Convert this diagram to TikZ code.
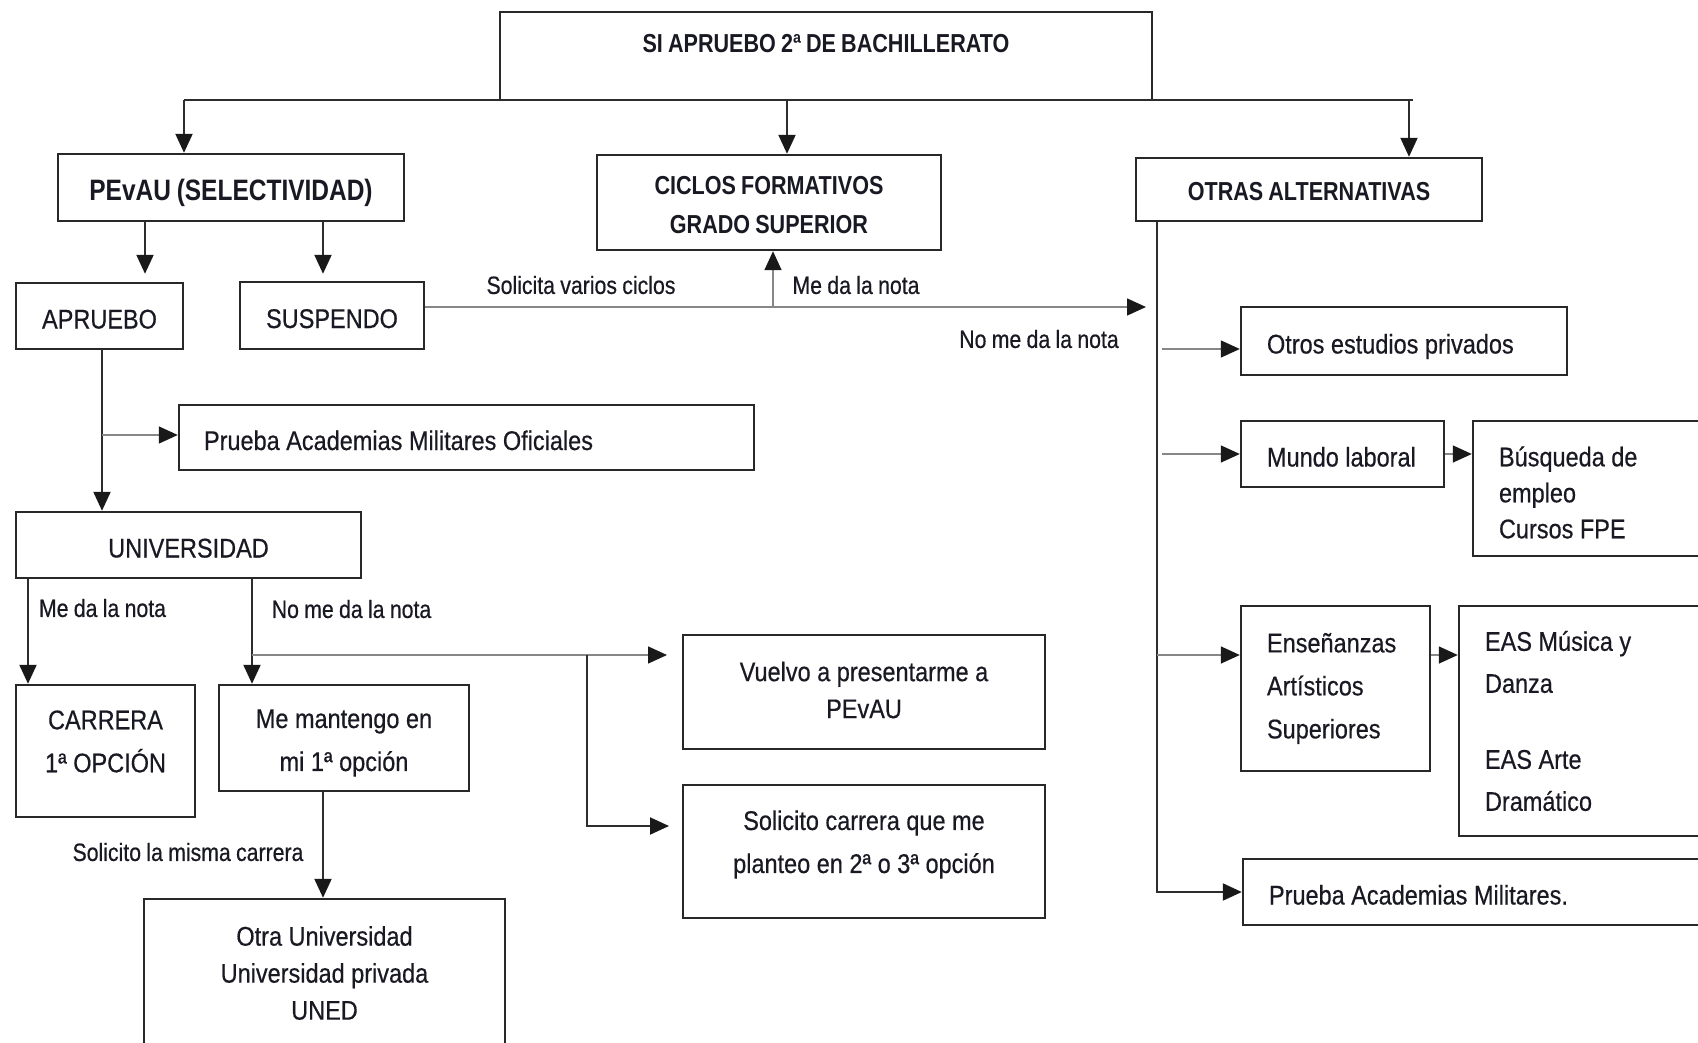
\documentclass[tikz,border=0pt]{standalone}
\usepackage{fontspec}
\setmainfont{Liberation Sans}[FakeStretch=0.87,WordSpace=1.0,FakeBold=0.5]
\newfontfamily\lblfont{Liberation Sans}[FakeStretch=0.85,WordSpace=0.9,FakeBold=0.5]
\newfontfamily\hdfont{Liberation Sans}[FakeStretch=0.83,WordSpace=0.85]
\usetikzlibrary{arrows.meta,calc}
\definecolor{boxc}{RGB}{40,40,40}
\definecolor{linec}{RGB}{45,45,45}
\definecolor{lightc}{RGB}{135,135,135}
\definecolor{txtc}{RGB}{25,25,35}
\definecolor{tipc}{RGB}{25,25,25}
\tikzset{
  bx/.style 2 args={draw=boxc, line width=2.4pt, inner sep=0pt,
    minimum width=#1pt, minimum height=#2pt, text=txtc, align=center,
    font=\fontsize{27}{41}\selectfont},
  lbx/.style n args={4}{draw=boxc, line width=2.4pt, inner ysep=0pt,
    inner xsep=#3pt, text width=#4pt, minimum width=#1pt, minimum height=#2pt,
    align=flush left, text=txtc, font=\fontsize{27}{41}\selectfont},
  one/.style={text height=25pt, text depth=0pt},
  hd/.style={font=\hdfont\bfseries\fontsize{26}{39}\selectfont},
  tx/.style={font=\fontsize{27}{41}\selectfont, text=txtc, align=center, inner sep=0pt},
  lbl/.style={font=\lblfont\fontsize{25}{30}\selectfont, text=txtc, inner sep=0pt},
  tip/.style={-{Triangle[length=19pt,width=17pt,color=tipc]}},
  plain/.style={draw=linec, line width=2pt},
  conn/.style={plain, tip},
  light/.style={draw=lightc, line width=1.5pt, tip}
}
\begin{document}
\begin{tikzpicture}[x=1pt,y=-1pt]
\useasboundingbox (0,0) rectangle (1698,1043);
\clip (0,0) rectangle (1698,1043);

% ---------- boxes ----------
\node[bx={652}{88}, label={[name=topT, hd, text=txtc, inner sep=0pt, yshift=12pt]center:SI APRUEBO 2ª DE BACHILLERATO}] (top) at (826,56) {};
\node[bx={346}{67}, one, font=\hdfont\bfseries\fontsize{29.5}{33}\selectfont, text height=26pt] (pevau) at (231,187.5) {PEvAU (SELECTIVIDAD)};
\node[bx={344}{95}, hd, label={[name=ciclosT, hd, text=txtc, align=center, inner sep=0pt, yshift=-3pt]center:CICLOS FORMATIVOS\\GRADO SUPERIOR}] (ciclos) at (769,202.5) {};
\node[bx={346}{63}, hd, one, text height=23pt] (otras) at (1309,189.5) {OTRAS ALTERNATIVAS};

\node[bx={167}{66}, one] (aprueba) at (99.5,316) {APRUEBO};
\node[bx={184}{67}, one] (suspendo) at (332,315.5) {SUSPENDO};
\node[lbx={575}{65}{25}{525}, one] (militoff) at (466.5,437.5) {Prueba Academias Militares Oficiales};
\node[bx={345}{66}, one] (univ) at (188.5,545) {UNIVERSIDAD};

\node[bx={179}{132}, label={[name=carreraT, tx, font=\fontsize{27}{43}\selectfont, yshift=9.5pt]center:CARRERA\\1ª OPCIÓN}] (carrera) at (105.5,751) {};
\node[bx={250}{106}, label={[name=mantT, tx, font=\fontsize{27}{43}\selectfont, yshift=-5pt]center:Me mantengo en\\mi 1ª opción}] (mantengo) at (344,738) {};
\node[bx={361}{148}, font=\fontsize{27}{37}\selectfont] (otrauni) at (324.5,973) {Otra Universidad\\Universidad privada\\UNED};
\node[bx={362}{114}, label={[name=vuelT, tx, font=\fontsize{27}{37}\selectfont, yshift=2pt]center:Vuelvo a presentarme a\\PEvAU}] (vuelvo) at (864,692) {};
\node[bx={362}{133}, label={[name=solT, tx, font=\fontsize{27}{43}\selectfont, yshift=7pt]center:Solicito carrera que me\\planteo en 2ª o 3ª opción}] (solicito) at (864,851.5) {};

\node[lbx={326}{68}{26}{274}, one] (otros) at (1404,341) {Otros estudios privados};
\node[lbx={203}{66}{26}{151}, one] (mundo) at (1342.5,454) {Mundo laboral};
\node[lbx={257}{135}{26}{205}, font=\fontsize{27}{36}\selectfont, label={[name=busqT, tx, font=\fontsize{27}{36}\selectfont, align=flush left, text width=205pt, yshift=-4pt]center:Búsqueda de\\empleo\\Cursos FPE}] (busq) at (1601.5,488.5) {};
\node[lbx={189}{165}{26}{137}, font=\fontsize{27}{43}\selectfont] (ensen) at (1335.5,688.5) {Enseñanzas\\Artísticos\\Superiores};
\node[lbx={271}{230}{26}{219}, font=\fontsize{27}{42}\selectfont] (eas) at (1594.5,721) {EAS Música y\\Danza\\[34pt]EAS Arte\\Dramático};
\node[lbx={487}{66}{26}{435}, one] (milit) at (1486.5,892) {Prueba Academias Militares.};

% ---------- edge labels ----------
\node[lbl] (l1) at (581,285) {Solicita varios ciclos};
\node[lbl] (l2) at (856,285) {Me da la nota};
\node[lbl] (l3) at (1039,339) {No me da la nota};
\node[lbl] (l4) at (102.5,608) {Me da la nota};
\node[lbl] (l5) at (351.5,609) {No me da la nota};
\node[lbl] (l6) at (188,852) {Solicito la misma carrera};

% ---------- connectors ----------
\coordinate (bL) at (184,100);
\coordinate (bM) at (787,100);
\coordinate (bR) at (1409,100);
\coordinate (bE) at (1413,100);
\draw[plain] (bL) -- (bE);
\draw[conn] (bL) -- (bL |- pevau.north);
\draw[conn] (bM) -- (bM |- ciclos.north);
\draw[conn] (bR) -- (bR |- otras.north);

\coordinate (pA) at (145,221);
\coordinate (pS) at (323,221);
\draw[conn, shorten >=8pt] (pA) -- (pA |- aprueba.north);
\draw[conn, shorten >=7pt] (pS) -- (pS |- suspendo.north);

\coordinate (sL) at ([yshift=8.5pt]suspendo.east);
\coordinate (sR) at (1146,307);
\draw[light] (sL) -- (sR);
\coordinate (sUp) at (773,307);
\draw[light] (sUp) -- (sUp |- ciclos.south);

\coordinate (oB) at (1157,892);
\draw[conn] (otras.south -| oB) -- (oB) -- (milit.west);
\coordinate (r1) at (1162,349);
\draw[light] (r1) -- (r1 -| otros.west);
\coordinate (r2) at (1162,454);
\draw[light] (r2) -- (r2 -| mundo.west);
\draw[light] (mundo.east) -- (mundo.east -| busq.west);
\coordinate (r3) at (1157,655);
\draw[light] (r3) -- (r3 -| ensen.west);
\draw[light] (r3 -| ensen.east) -- (r3 -| eas.west);

\coordinate (aT) at (102,349);
\draw[conn] (aT) -- (aT |- univ.north);
\coordinate (aJ) at (102,435);
\draw[light] (aJ) -- (aJ -| militoff.west);

\coordinate (u1) at (28,578);
\draw[conn] (u1) -- (u1 |- carrera.north);
\coordinate (u2) at (252,578);
\draw[conn] (u2) -- (u2 |- mantengo.north);
\coordinate (j1) at (252,655);
\coordinate (j2) at (587,655);
\coordinate (j3) at (587,826);
\coordinate (vA) at (667,655);
\coordinate (sA) at (669,826);
\draw[light] (j1) -- (vA);
\draw[conn] (j2) -- (j3) -- (sA);

\coordinate (m1) at (323,791);
\draw[conn] (m1) -- (m1 |- otrauni.north);
\end{tikzpicture}
\end{document}
